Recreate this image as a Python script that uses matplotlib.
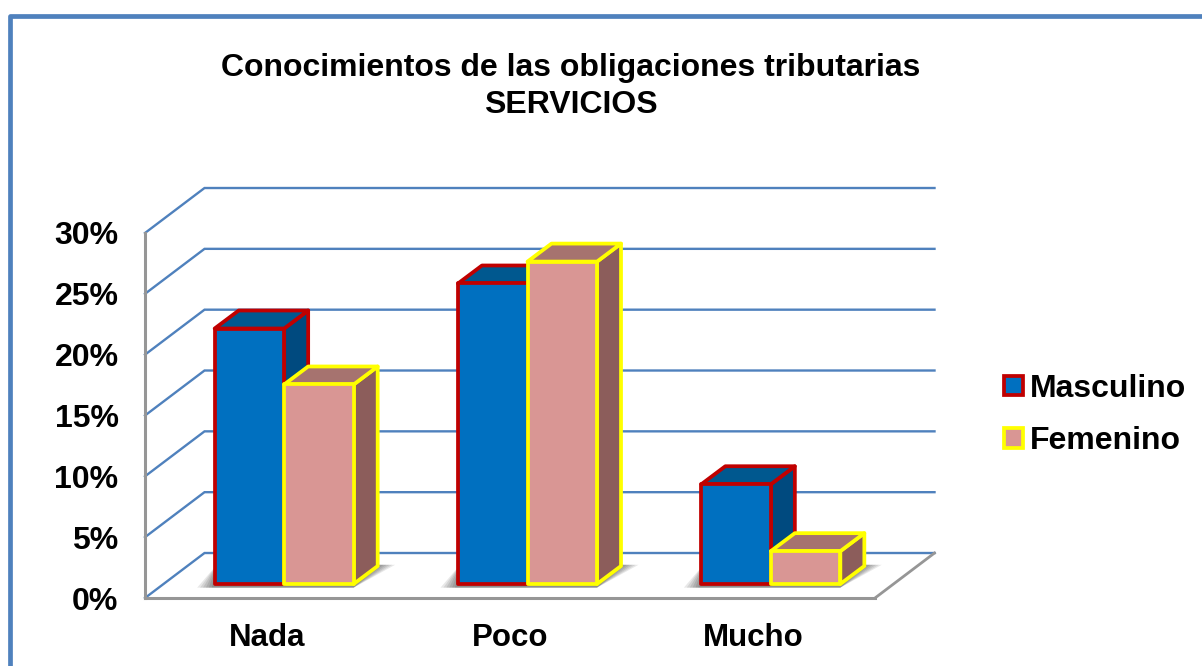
import matplotlib
matplotlib.use("Agg")
import matplotlib.pyplot as plt
from matplotlib.patches import Patch, Polygon

plt.rcParams['font.family'] = ['Liberation Sans', 'DejaVu Sans']
plt.rcParams['font.weight'] = 'bold'

categories = ['Nada', 'Poco', 'Mucho']
masculino = [21.0, 24.7, 8.2]
femenino = [16.4, 26.5, 2.7]
yticks = [0, 5, 10, 15, 20, 25, 30]
ytick_labels = ['0%', '5%', '10%', '15%', '20%', '25%', '30%']

W, H = 1202, 666
# plot front plane in pixels
left, right, bottom, top = 145, 875, 598, 233

# depth of the box and of each bar, in data units
wall_dx, wall_dy = 59.5 / 243.3, 45 / 12.17
bar_dx, bar_dy = 24 / 243.3, 18 / 12.17
off_dx, off_dy = 17.5 / 243.3, 14 / 12.17
bar_w = 69.5 / 243.3

GRID = '#4F81BD'
GRAY = '#969696'

fig = plt.figure(figsize=(W / 100, H / 100), dpi=100)
fig.patch.set_facecolor('white')
ax = fig.add_axes([left / W, 1 - bottom / H, (right - left) / W, (bottom - top) / H])
ax.set_xlim(0, 3)
ax.set_ylim(0, 30)
ax.patch.set_visible(False)

# outer frame of the picture, only left and top show
fig.add_artist(plt.Line2D([10.5 / W, 10.5 / W, 1], [0, 1 - 16 / H, 1 - 16 / H],
                          color=GRID, lw=3.4, solid_joinstyle='round'))

for s in ['top', 'right']:
    ax.spines[s].set_visible(False)
for s in ['left', 'bottom']:
    ax.spines[s].set_color(GRAY)
    ax.spines[s].set_linewidth(2.2)

# back wall grid, runs from the left edge into the depth and then across
for t in yticks:
    ax.plot([0, wall_dx, 3 + wall_dx], [t, t + wall_dy, t + wall_dy], color=GRID, lw=1.7,
            clip_on=False, zorder=1, solid_joinstyle='miter')
ax.plot([3, 3 + wall_dx], [0, wall_dy], color=GRAY, lw=2.0, clip_on=False, zorder=1)


def poly(pts, **kw):
    p = Polygon(pts, closed=True, clip_on=False, **kw)
    ax.add_patch(p)


def bar3d(x, val, face, tone_top, tone_side, edge, z):
    x0 = x + off_dx
    x1 = x0 + bar_w
    y0 = off_dy
    y1 = y0 + val
    kw = dict(edgecolor=edge, linewidth=2.7, joinstyle='round', zorder=z)
    poly([(x1, y0), (x1 + bar_dx, y0 + bar_dy), (x1 + bar_dx, y1 + bar_dy), (x1, y1)], facecolor=tone_side, **kw)
    poly([(x0, y1), (x1, y1), (x1 + bar_dx, y1 + bar_dy), (x0 + bar_dx, y1 + bar_dy)], facecolor=tone_top, **kw)
    poly([(x0, y0), (x1, y0), (x1, y1), (x0, y1)], facecolor=face, **kw)


# soft shadow on the floor under each pair of bars
for i in range(3):
    xa = i + 0.5 - bar_w + off_dx
    xb = xa + 2 * bar_w
    for k in range(6):
        grow = (k + 1) * 0.012
        poly([(xa - grow, off_dy - 0.3), (xb, off_dy - 0.3),
              (xb + bar_dx + grow, off_dy + bar_dy + 0.1),
              (xa + bar_dx - 0.09, off_dy + bar_dy + 0.1)],
             facecolor='black', edgecolor='none', alpha=0.09, zorder=2)

z = 3
for i in range(3):
    xc = i + 0.5
    bar3d(xc - bar_w, masculino[i], '#0070C0', '#00588F', '#004A7F', '#C00000', z)
    bar3d(xc, femenino[i], '#D99694', '#A6736F', '#8C5D5B', '#FFFF00', z + 1)
    z += 2

ax.set_yticks(yticks)
ax.set_yticklabels(ytick_labels, fontsize=23, fontweight='bold')
ax.set_xticks([0.5, 1.5, 2.5])
ax.set_xticklabels(categories, fontsize=22.5, fontweight='bold')
ax.tick_params(axis='both', length=0)
ax.tick_params(axis='y', pad=19)
ax.tick_params(axis='x', pad=18)

fig.text(570.5 / W, 1 - 86.5 / H, 'Conocimientos de las obligaciones tributarias\nSERVICIOS',
         ha='center', va='center', fontsize=23, fontweight='bold', linespacing=1.3)

handles = [Patch(facecolor='#0070C0', edgecolor='#C00000', linewidth=2.7, label='Masculino'),
           Patch(facecolor='#D99694', edgecolor='#FFFF00', linewidth=2.7, label='Femenino')]
fig.legend(handles=handles, loc='center left', bbox_to_anchor=(1004 / W, 1 - 415 / H), frameon=False,
           handlelength=0.58, handleheight=0.58, handletextpad=0.22, labelspacing=0.7,
           prop={'weight': 'bold', 'size': 23}, borderpad=0, borderaxespad=0)

fig.savefig('out.png', dpi=100)
